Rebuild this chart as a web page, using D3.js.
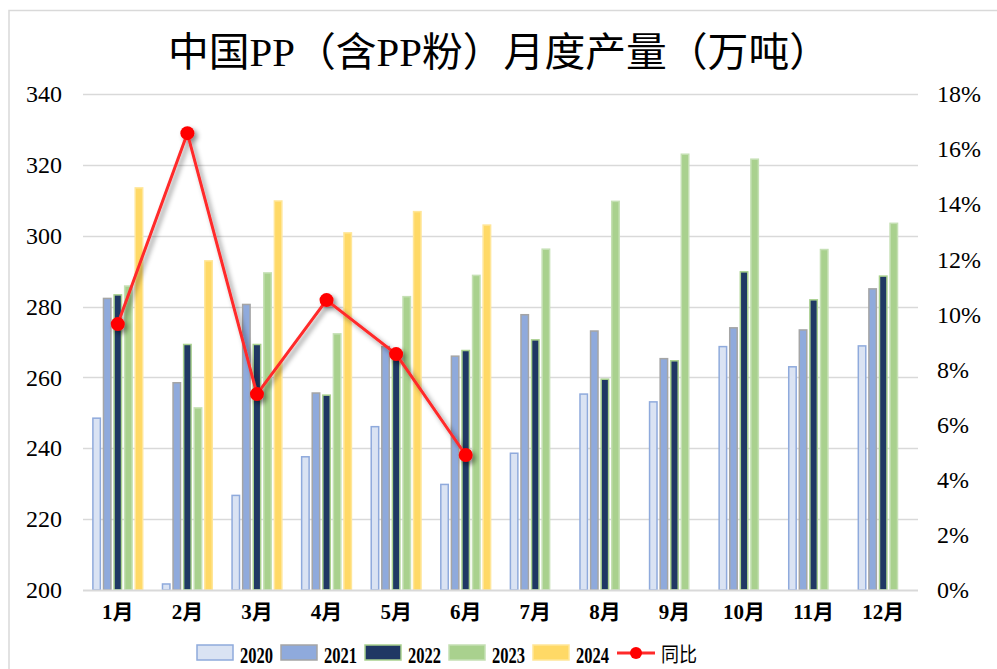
<!DOCTYPE html>
<html><head><meta charset="utf-8">
<script src="https://cdn.jsdelivr.net/npm/d3@7/dist/d3.min.js"></script>
<style>body{margin:0;background:#fff}svg{display:block}</style>
</head><body>
<svg id="c" width="997" height="669"></svg>
<script>
const months = ["1月","2月","3月","4月","5月","6月","7月","8月","9月","10月","11月","12月"];
const years = ["2020","2021","2022","2023","2024"];
const v2020 = [248.5, 201.7, 226.7, 237.6, 246.1, 229.8, 238.6, 255.3, 253.1, 268.7, 263.0, 268.9];
const v2021 = [282.3, 258.5, 280.6, 255.6, 268.7, 266.0, 277.7, 273.1, 265.3, 274.0, 273.4, 285.0];
const v2022 = [283.3, 269.3, 269.3, 255.0, 266.9, 267.6, 270.6, 259.5, 264.7, 289.8, 281.9, 288.6];
const v2023 = [285.8, 251.4, 289.5, 272.3, 282.8, 288.8, 296.2, 309.7, 323.0, 321.6, 296.1, 303.5];
const v2024 = [313.5, 292.9, 309.8, 300.8, 306.8, 303.0];
const yoy = [9.65, 16.58, 7.11, 10.52, 8.56, 4.90];
const leftTicks = [200,220,240,260,280,300,320,340];
const rightTicks = [0,2,4,6,8,10,12,14,16,18];
const title = "中国PP（含PP粉）月度产量（万吨）";

const series = [v2020, v2021, v2022, v2023, v2024];
const fills = ["#dae3f3","#8faadc","#203864","#a9d18e","#ffd966"];
const strokes = ["#8faadc","#a5a5a5","#a9d18e","#c5e0b4","#ffe699"];

const svg = d3.select("#c");
const L = 83, R = 918, T = 94, B = 590;
const serif = "'Liberation Serif','Noto Sans CJK SC',serif";

// border
svg.append("rect").attr("x",9).attr("y",10.5).attr("width",1000).attr("height",700)
  .attr("fill","none").attr("stroke","#d9d9d9").attr("stroke-width",1.5);

svg.append("text").attr("x",499).attr("y",66).attr("text-anchor","middle")
  .attr("font-family",serif).attr("font-size",40)
  .attr("textLength",662).attr("lengthAdjust","spacingAndGlyphs")
  .attr("fill","#000").text(title);

const x0 = d3.scaleBand().domain(months).range([L,R]).paddingInner(0.27).paddingOuter(0.135);
const x1 = d3.scaleBand().domain(years).range([0,x0.bandwidth()]).paddingInner(0.2).paddingOuter(0);
const y = d3.scaleLinear().domain([200,340]).range([B,T]);
const y2 = d3.scaleLinear().domain([0,18]).range([B,T]);

// gridlines
svg.append("g").selectAll("line").data(leftTicks.slice(1)).join("line")
  .attr("x1",L).attr("x2",R).attr("y1",d=>Math.round(y(d))+0.5).attr("y2",d=>Math.round(y(d))+0.5)
  .attr("stroke","#d9d9d9").attr("stroke-width",1.5);

// left axis
const ga = svg.append("g").attr("transform",`translate(${L},0)`)
  .call(d3.axisLeft(y).tickValues(leftTicks).tickSize(0).tickPadding(21));
ga.select(".domain").remove();
ga.selectAll("text").attr("font-family",serif).attr("font-size",24).attr("fill","#000");

const gr = svg.append("g").attr("transform",`translate(${R},0)`)
  .call(d3.axisRight(y2).tickValues(rightTicks).tickFormat(d=>d+"%").tickSize(0).tickPadding(19));
gr.select(".domain").remove();
gr.selectAll("text").attr("font-family",serif).attr("font-size",24).attr("fill","#000");

// bars
series.forEach((vals,i)=>{
  svg.append("g").selectAll("rect").data(vals).join("rect")
    .attr("x",(d,j)=>x0(months[j])+x1(years[i])+0.5)
    .attr("y",d=>y(d))
    .attr("width",x1.bandwidth()-1)
    .attr("height",d=>B-y(d))
    .attr("fill",fills[i]).attr("stroke",strokes[i]).attr("stroke-width",1.5);
});

// baseline
svg.append("line").attr("x1",L).attr("x2",R).attr("y1",B+0.5).attr("y2",B+0.5)
  .attr("stroke","#d9d9d9").attr("stroke-width",2);

// x axis labels
const gx = svg.append("g").attr("transform",`translate(0,${B})`)
  .call(d3.axisBottom(x0).tickSize(0).tickPadding(14));
gx.select(".domain").remove();
gx.selectAll("text").attr("font-family",serif).attr("font-size",21).attr("font-weight","bold").attr("fill","#000");

// shadow filter
const defs = svg.append("defs");
const f = defs.append("filter").attr("id","sh").attr("x","-20%").attr("y","-20%").attr("width","140%").attr("height","140%");
f.append("feDropShadow").attr("dx",3).attr("dy",3).attr("stdDeviation",2.5).attr("flood-color","#000").attr("flood-opacity",0.45);

const cx = (d,j)=>x0(months[j])+x0.bandwidth()/2;
const line = d3.line().x((d,j)=>cx(d,j)).y(d=>y2(d));
const gl = svg.append("g").attr("filter","url(#sh)");
gl.append("path").datum(yoy).attr("d",line).attr("fill","none").attr("stroke","#ff2a2a").attr("stroke-width",3);
gl.selectAll("circle").data(yoy).join("circle").attr("cx",cx).attr("cy",d=>y2(d)).attr("r",7).attr("fill","#ff0000");

// legend
const lg = svg.append("g");
const lx = [197,281,365,449,533];
years.forEach((yr,i)=>{
  lg.append("rect").attr("x",lx[i]).attr("y",645).attr("width",36).attr("height",15)
    .attr("fill",fills[i]).attr("stroke",strokes[i]).attr("stroke-width",1.5);
  lg.append("text").attr("x",lx[i]+43).attr("y",663).attr("font-family",serif).attr("font-size",24)
    .attr("font-weight","bold").attr("textLength",33).attr("lengthAdjust","spacingAndGlyphs").text(yr);
});
lg.append("line").attr("x1",617).attr("x2",655).attr("y1",653).attr("y2",653).attr("stroke","#ff2a2a").attr("stroke-width",3);
lg.append("circle").attr("cx",636).attr("cy",653).attr("r",6).attr("fill","#ff0000");
lg.append("text").attr("x",661).attr("y",662).attr("font-family","'Noto Sans CJK SC',sans-serif").attr("font-size",20)
  .attr("textLength",36).attr("lengthAdjust","spacingAndGlyphs").text("同比");
</script>
</body></html>
